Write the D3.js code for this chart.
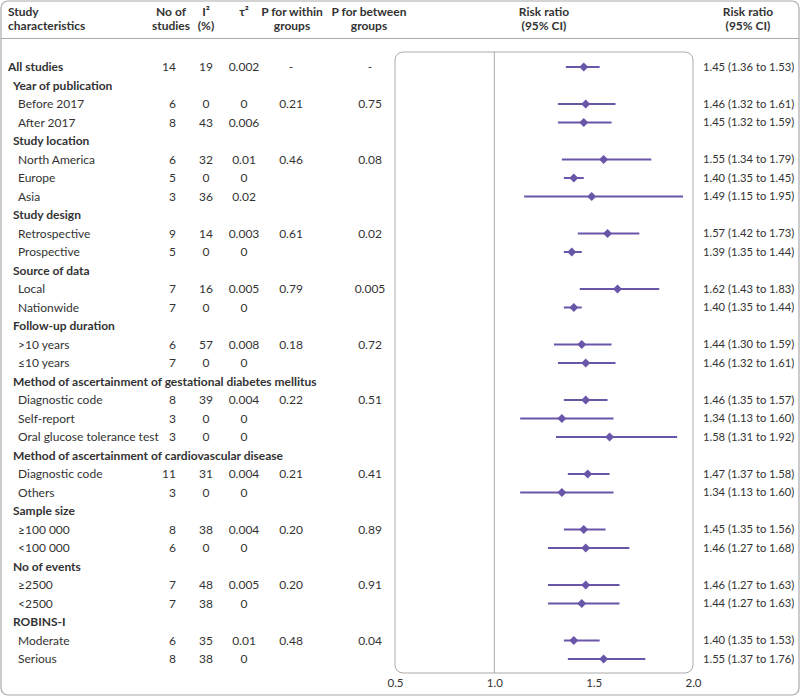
<!DOCTYPE html>
<html>
<head>
<meta charset="utf-8">
<title>Forest plot</title>
<script src="https://cdn.jsdelivr.net/npm/d3@7"></script>
<style>
  body { margin: 0; background: #fff; }
  text { font-family: Lato, "Noto Sans", sans-serif; fill: #333; }
</style>
</head>
<body>
<script>
// rows of the table, top to bottom
var labels = ["All studies", "Year of publication", "Before 2017", "After 2017",
  "Study location", "North America", "Europe", "Asia",
  "Study design", "Retrospective", "Prospective",
  "Source of data", "Local", "Nationwide",
  "Follow-up duration", ">10 years", "\u226410 years",
  "Method of ascertainment of gestational diabetes mellitus", "Diagnostic code", "Self-report", "Oral glucose tolerance test",
  "Method of ascertainment of cardiovascular disease", "Diagnostic code", "Others",
  "Sample size", "\u2265100 000", "<100 000",
  "No of events", "\u22652500", "<2500",
  "ROBINS-I", "Moderate", "Serious"];
// 0 = overall, 1 = group heading, 2 = subgroup
var levels = [0, 1, 2, 2, 1, 2, 2, 2, 1, 2, 2, 1, 2, 2, 1, 2, 2, 1, 2, 2, 2, 1, 2, 2, 1, 2, 2, 1, 2, 2, 1, 2, 2];
var nStudies = ["14", "", "6", "8", "", "6", "5", "3", "", "9", "5", "", "7", "7", "", "6", "7", "", "8", "3", "3", "", "11", "3", "", "8", "6", "", "7", "7", "", "6", "8"];
var i2 = ["19", "", "0", "43", "", "32", "0", "36", "", "14", "0", "", "16", "0", "", "57", "0", "", "39", "0", "0", "", "31", "0", "", "38", "0", "", "48", "38", "", "35", "38"];
var tau2 = ["0.002", "", "0", "0.006", "", "0.01", "0", "0.02", "", "0.003", "0", "", "0.005", "0", "", "0.008", "0", "", "0.004", "0", "0", "", "0.004", "0", "", "0.004", "0", "", "0.005", "0", "", "0.01", "0"];
var pWithin = ["-", "", "0.21", "", "", "0.46", "", "", "", "0.61", "", "", "0.79", "", "", "0.18", "", "", "0.22", "", "", "", "0.21", "", "", "0.20", "", "", "0.20", "", "", "0.48", ""];
var pBetween = ["-", "", "0.75", "", "", "0.08", "", "", "", "0.02", "", "", "0.005", "", "", "0.72", "", "", "0.51", "", "", "", "0.41", "", "", "0.89", "", "", "0.91", "", "", "0.04", ""];
var rr = [1.45, null, 1.46, 1.45, null, 1.55, 1.40, 1.49, null, 1.57, 1.39, null, 1.62, 1.40, null, 1.44, 1.46, null, 1.46, 1.34, 1.58, null, 1.47, 1.34, null, 1.45, 1.46, null, 1.46, 1.44, null, 1.40, 1.55];
var lo = [1.36, null, 1.32, 1.32, null, 1.34, 1.35, 1.15, null, 1.42, 1.35, null, 1.43, 1.35, null, 1.30, 1.32, null, 1.35, 1.13, 1.31, null, 1.37, 1.13, null, 1.35, 1.27, null, 1.27, 1.27, null, 1.35, 1.37];
var hi = [1.53, null, 1.61, 1.59, null, 1.79, 1.45, 1.95, null, 1.73, 1.44, null, 1.83, 1.44, null, 1.59, 1.61, null, 1.57, 1.60, 1.92, null, 1.58, 1.60, null, 1.56, 1.68, null, 1.63, 1.63, null, 1.53, 1.76];
var xTicks = [0.5, 1.0, 1.5, 2.0];

var W = 800, H = 696;
var purple = "#6a56a8";
var svg = d3.select("body").append("svg").attr("width", W).attr("height", H);

var rows = labels.map(function (d, i) {
  return { label: d, level: levels[i], n: nStudies[i], i2: i2[i], tau2: tau2[i],
    pw: pWithin[i], pb: pBetween[i], rr: rr[i], lo: lo[i], hi: hi[i] };
});

var y = d3.scaleLinear().domain([0, rows.length - 1]).range([67, 659]);
var x = d3.scaleLinear().domain([0.5, 2.0]).range([395, 693]);

// outer frame and header rule
svg.append("rect").attr("x", 1).attr("y", 1).attr("width", W - 2).attr("height", H - 2)
  .attr("rx", 7).attr("fill", "none").attr("stroke", "#aaa").attr("stroke-width", 1.2);
svg.append("line").attr("x1", 1).attr("x2", W - 1).attr("y1", 38.5).attr("y2", 38.5)
  .attr("stroke", "#aaa").attr("stroke-width", 1.2);

// header texts
var headers = [
  { x: 8, anchor: "start", lines: ["Study", "characteristics"] },
  { x: 171, anchor: "middle", lines: ["No of", "studies"] },
  { x: 206, anchor: "middle", lines: ["I\u00b2", "(%)"] },
  { x: 244, anchor: "middle", lines: ["\u03c4\u00b2", ""] },
  { x: 292, anchor: "middle", lines: ["P for within", "groups"] },
  { x: 369, anchor: "middle", lines: ["P for between", "groups"] },
  { x: 544, anchor: "middle", lines: ["Risk ratio", "(95% CI)"] },
  { x: 748, anchor: "middle", lines: ["Risk ratio", "(95% CI)"] }
];
headers.forEach(function (h) {
  h.lines.forEach(function (l, j) {
    svg.append("text").attr("x", h.x).attr("y", 16 + j * 14)
      .attr("text-anchor", h.anchor).attr("font-size", 12).attr("font-weight", "bold")
      .text(l);
  });
});

// plot panel
svg.append("rect").attr("x", x(0.5)).attr("y", 52).attr("width", x(2.0) - x(0.5)).attr("height", 621)
  .attr("rx", 8).attr("fill", "none").attr("stroke", "#aaa").attr("stroke-width", 1);
svg.append("line").attr("x1", x(1)).attr("x2", x(1)).attr("y1", 52).attr("y2", 673)
  .attr("stroke", "#aaa").attr("stroke-width", 1);

var axis = d3.axisBottom(x).tickValues(xTicks).tickSize(0).tickFormat(d3.format(".1f"));
var ax = svg.append("g").attr("transform", "translate(0,676)").call(axis);
ax.select(".domain").remove();
ax.selectAll("text").attr("font-size", 11.5).style("font-family", "Lato, sans-serif").attr("fill", "#333");

// table rows
var g = svg.selectAll("g.row").data(rows).enter().append("g").attr("class", "row")
  .attr("transform", function (d, i) { return "translate(0," + y(i) + ")"; });

g.append("text")
  .attr("x", function (d) { return d.level === 0 ? 8 : d.level === 1 ? 13 : 18; })
  .attr("dy", "0.35em").attr("font-size", 12)
  .attr("font-weight", function (d) { return d.level < 2 ? "bold" : "normal"; })
  .text(function (d) { return d.label; });

var cols = [
  { key: "n", x: 176, anchor: "end" },
  { key: "i2", x: 206, anchor: "middle" },
  { key: "tau2", x: 244, anchor: "middle" },
  { key: "pw", x: 291, anchor: "middle" },
  { key: "pb", x: 370, anchor: "middle" }
];
cols.forEach(function (c) {
  g.append("text").attr("x", c.x).attr("dy", "0.35em").attr("font-size", 12)
    .attr("text-anchor", c.anchor).text(function (d) { return d[c.key]; });
});

var est = g.filter(function (d) { return d.rr !== null; });
est.append("line")
  .attr("x1", function (d) { return x(d.lo); }).attr("x2", function (d) { return x(d.hi); })
  .attr("stroke", purple).attr("stroke-width", 2);
est.append("path")
  .attr("d", "M0,-4.5L4.5,0L0,4.5L-4.5,0Z")
  .attr("transform", function (d) { return "translate(" + x(d.rr) + ",0)"; })
  .attr("fill", purple);
est.append("text").attr("x", 703).attr("dy", "0.35em").attr("font-size", 11.2)
  .text(function (d) {
    return d.rr.toFixed(2) + " (" + d.lo.toFixed(2) + " to " + d.hi.toFixed(2) + ")";
  });
</script>
</body>
</html>
